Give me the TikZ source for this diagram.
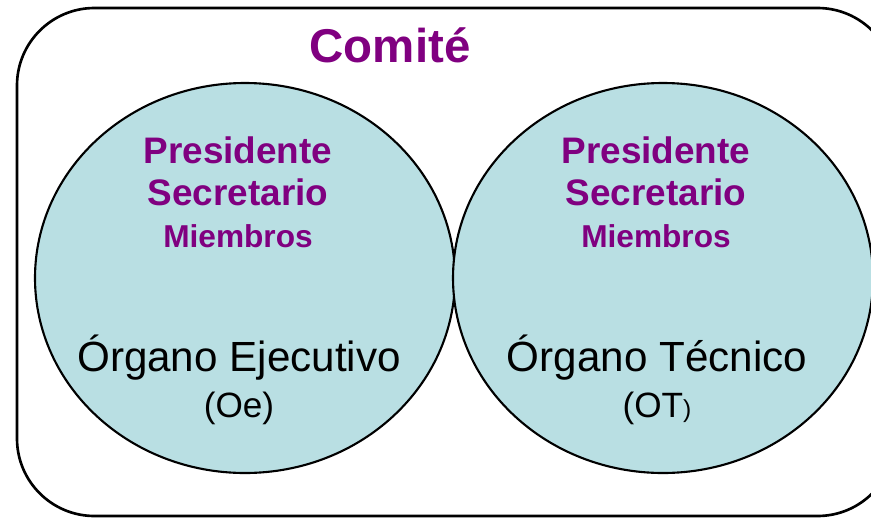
\documentclass[tikz,border=0pt]{standalone}
\usepackage{fontspec}
\setmainfont{Liberation Sans}
\usepackage{xcolor}
\usepackage{tikz}

\definecolor{comitepurple}{HTML}{800080}
\definecolor{organofill}{HTML}{B9DFE3}

\tikzset{
    cargo/.style={text=comitepurple, font=\bfseries\fontsize{21}{21}\selectfont},
}

\begin{document}
\begin{tikzpicture}
    \useasboundingbox (0,0) rectangle (17.42,10.38);
    \clip (0,0) rectangle (17.42,10.38);
    % Frame of the committee
    \draw[line width=1.5pt, rounded corners=1.55cm] (0.34,0.06) rectangle (17.9,10.22);
    \node (comite) at (7.8,9.48) {\bfseries\fontsize{27}{27}\selectfont\color{comitepurple}Comité};
    \foreach \x/\name/\organo/\sigla in {4.9/oe/{Órgano Ejecutivo}/{(Oe)}, 13.26/ot/{Órgano Técnico}/{(OT{\fontsize{14}{14}\selectfont)}}} {
        % Circle of the body
        \draw[line width=1.2pt, fill=organofill] (\x,4.82) ellipse [x radius=4.2, y radius=3.9];
        % Members on top
        \node[cargo] (pres-\name) at (\x-0.14,7.38) {Presidente};
        \node[cargo] (secr-\name) at (\x-0.14,6.54) {Secretario};
        \node[cargo, font=\bfseries\fontsize{18}{18}\selectfont] (miem-\name) at (\x-0.14,5.66) {Miembros};
        % Name of the body below
        \node (nombre-\name) at (\x-0.12,3.22) {\fontsize{24}{24}\selectfont\organo};
        \node (sigla-\name) at (\x-0.12,2.22) {\fontsize{20}{20}\selectfont\sigla};
    }
\end{tikzpicture}
\end{document}
